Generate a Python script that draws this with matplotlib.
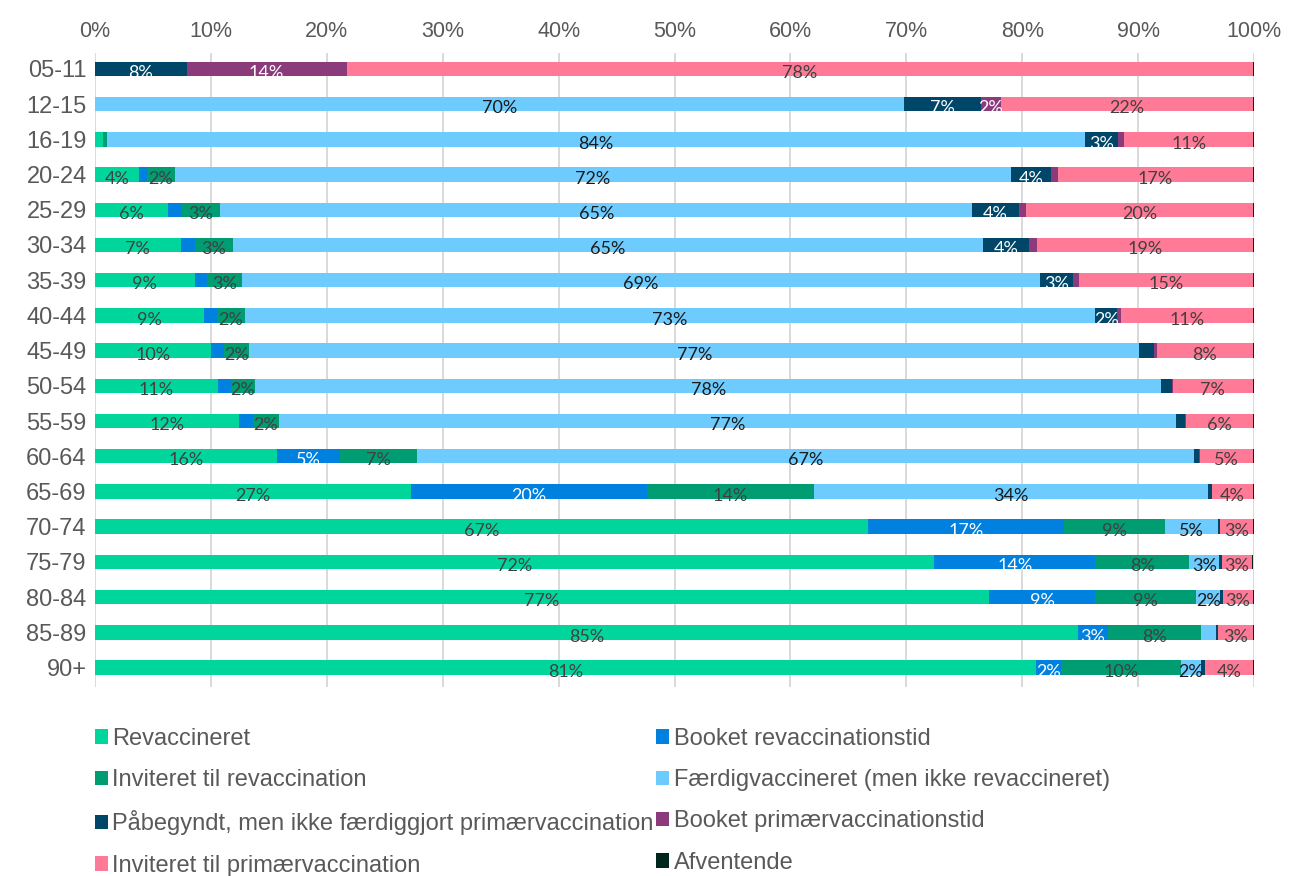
import matplotlib
matplotlib.use("Agg")
import matplotlib.pyplot as plt
import numpy as np

# age groups, top to bottom
ages = ["05-11", "12-15", "16-19", "20-24", "25-29", "30-34", "35-39", "40-44", "45-49",
        "50-54", "55-59", "60-64", "65-69", "70-74", "75-79", "80-84", "85-89", "90+"]

# share of each age group (%) per status
revacc = [0, 0, 0.7, 3.8, 6.3, 7.4, 8.6, 9.4, 10.0, 10.6, 12.4, 15.7, 27.3, 66.7, 72.4, 77.1, 84.8, 81.2]
booked_revacc = [0, 0, 0, 0.7, 1.1, 1.2, 1.1, 1.1, 1.1, 1.1, 1.2, 5.4, 20.3, 16.9, 13.9, 9.2, 2.6, 2.1]
invited_revacc = [0, 0, 0.3, 2.4, 3.4, 3.3, 3.0, 2.4, 2.2, 2.1, 2.3, 6.7, 14.4, 8.7, 8.1, 8.7, 8.0, 10.4]
faerdig = [0, 69.8, 84.4, 72.1, 64.9, 64.7, 68.8, 73.4, 76.8, 78.2, 77.4, 67.0, 34.0, 4.6, 2.6, 2.1, 1.3, 1.7]
paabegyndt = [7.9, 6.6, 2.9, 3.5, 4.0, 4.0, 2.9, 1.9, 1.3, 0.9, 0.7, 0.45, 0.35, 0.2, 0.2, 0.2, 0.2, 0.4]
booked_primaer = [13.8, 1.8, 0.5, 0.6, 0.6, 0.7, 0.5, 0.3, 0.2, 0.1, 0.1, 0.05, 0.05, 0, 0, 0, 0, 0]
invited_primaer = [78.2, 21.7, 11.1, 16.8, 19.6, 18.6, 15.0, 11.4, 8.3, 6.9, 5.8, 4.6, 3.5, 2.8, 2.6, 2.6, 3.0, 4.1]
afventende = [0.1, 0.1, 0.1, 0.1, 0.1, 0.1, 0.1, 0.1, 0.1, 0.1, 0.1, 0.1, 0.1, 0.1, 0.1, 0.1, 0.1, 0.1]

names = ["Revaccineret", "Booket revaccinationstid", "Inviteret til revaccination",
         "Færdigvaccineret (men ikke revaccineret)",
         "Påbegyndt, men ikke færdiggjort primærvaccination", "Booket primærvaccinationstid",
         "Inviteret til primærvaccination", "Afventende"]
values = [revacc, booked_revacc, invited_revacc, faerdig, paabegyndt, booked_primaer,
          invited_primaer, afventende]
colors = ["#00d69b", "#0081e0", "#009c72", "#6dcbfe", "#004669", "#8b3a7c", "#ff7a96", "#00271e"]
label_colors = ["#404040", "white", "#404040", "#1a1a1a", "white", "white", "#404040", "white"]

fig = plt.figure(figsize=(12.89, 8.76), dpi=100)
ax = fig.add_axes([0.0737, 0.2158, 0.8992, 0.7237])

y = np.arange(len(ages))
left = np.zeros(len(ages))
handles = []
for name, vals, col, lcol in zip(names, values, colors, label_colors):
    vals = np.array(vals, dtype=float)
    b = ax.barh(y, vals, left=left, height=0.41, color=col, label=name, zorder=3)
    handles.append(b)
    for yi, (l, v) in enumerate(zip(left, vals)):
        if v >= 1.5:
            ax.text(l + v / 2, yi + 0.12, f"{int(v + 0.5)}%", ha="center", va="center",
                    fontsize=13, color=lcol, family="Lato", zorder=4)
    left += vals

ax.set_xlim(0, 100)
ax.set_ylim(len(ages) - 0.45, -0.45)
ax.set_yticks(y)
ax.set_yticklabels(ages, family="Liberation Sans", fontsize=17, color="#595959")
ax.set_xticks(np.arange(0, 101, 10))
ax.set_xticklabels([f"{t}%" for t in range(0, 101, 10)], family="Liberation Sans",
                   fontsize=15.5, color="#595959")
ax.xaxis.tick_top()
ax.tick_params(length=0, pad=8)
ax.tick_params(axis="y", pad=6)
ax.grid(axis="x", color="#d9d9d9", linewidth=1.4, zorder=0)
for s in ax.spines.values():
    s.set_visible(False)

# legend filled row by row in two columns
order = [0, 2, 4, 6, 1, 3, 5, 7]
leg = fig.legend([handles[i] for i in order], [names[i] for i in order], ncol=2,
                 loc="upper left", bbox_to_anchor=(0.066, 0.18), frameon=False,
                 prop={"family": "Liberation Sans", "size": 17},
                 handlelength=0.55, handleheight=0.55, handletextpad=0.2,
                 columnspacing=0.1, labelspacing=0.82, borderaxespad=0)
for t in leg.get_texts():
    t.set_color("#595959")

fig.savefig("out.png", dpi=100)
